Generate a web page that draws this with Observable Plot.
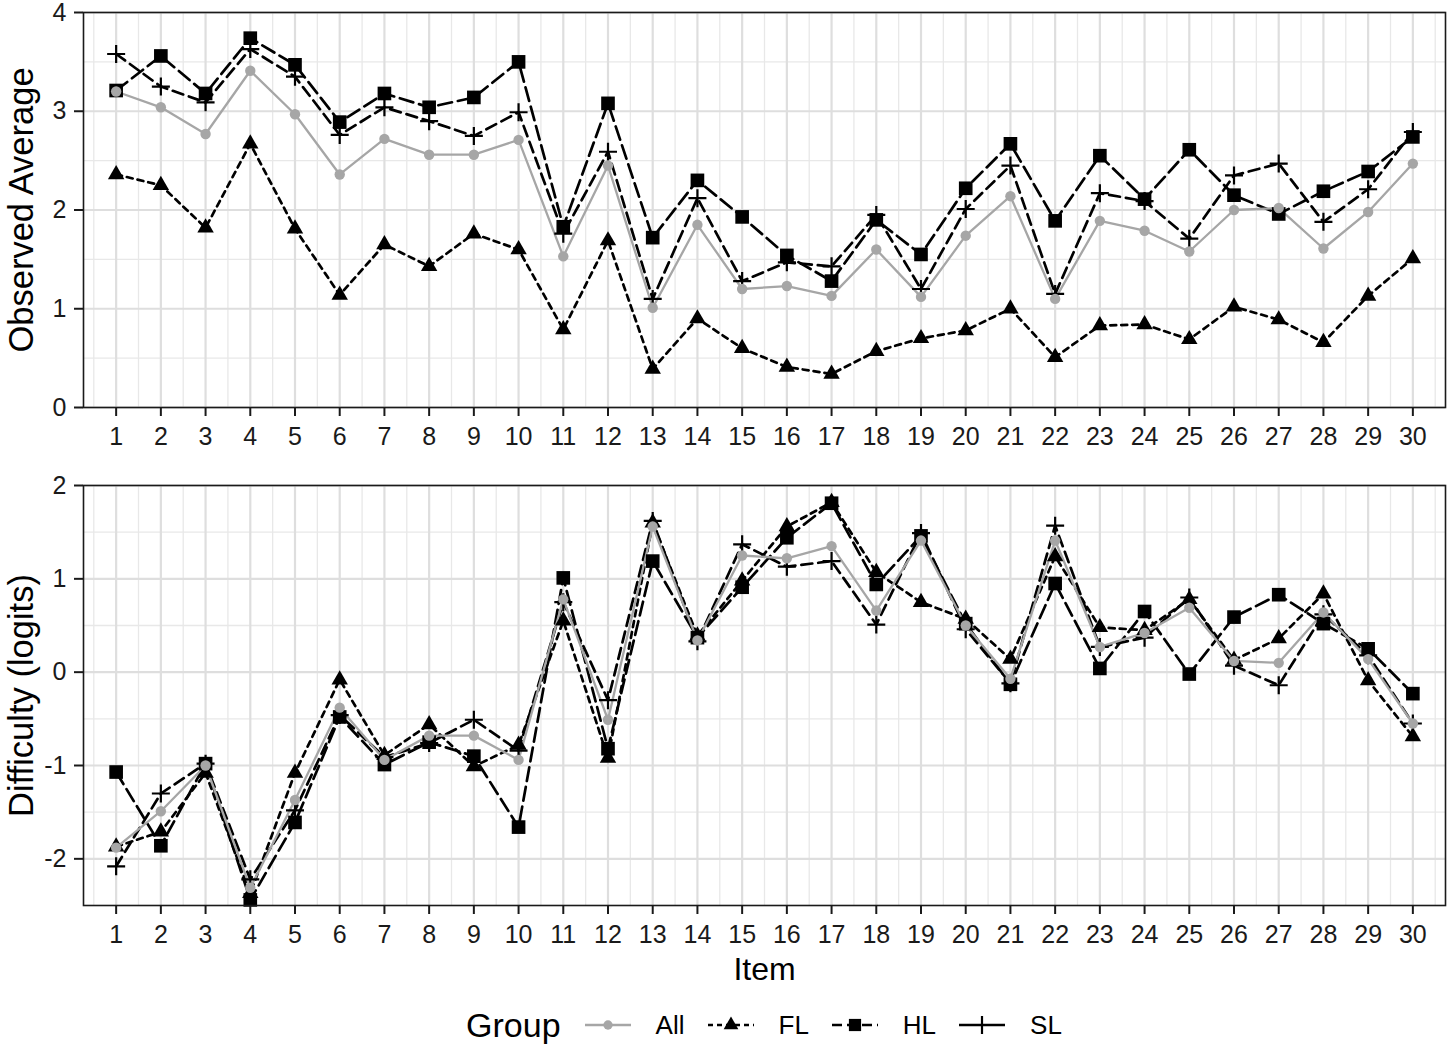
<!DOCTYPE html>
<html>
<head>
<meta charset="utf-8">
<script src="https://cdn.jsdelivr.net/npm/d3@7"></script>
<script src="https://cdn.jsdelivr.net/npm/@observablehq/plot@0.6"></script>
<style>
  body { margin: 0; background: #fff; font-family: "Liberation Sans", Arial, sans-serif; }
  #wrap { position: relative; width: 1450px; height: 1047px; overflow: hidden; }
  #top { position: absolute; left: 0; top: 0; }
  #bottom { position: absolute; left: 0; top: 460px; }
  #legend { position: absolute; left: 83px; width: 1362px; top: 1003px; height: 44px;
            display: flex; align-items: center; justify-content: center; }
  #legend .title { font-size: 34px; margin-right: 24px; color: #000; }
  #legend .lab { font-size: 26px; margin-left: 25px; margin-right: 23px; color: #000; }
  #legend .lab:last-child { margin-right: 0; }
  #legend svg { display: block; }
</style>
</head>
<body>
<div id="wrap">
  <div id="top"></div>
  <div id="bottom"></div>
  <div id="legend"></div>
</div>
<script>
// ---------------- data ----------------
const items = [1,2,3,4,5,6,7,8,9,10,11,12,13,14,15,16,17,18,19,20,21,22,23,24,25,26,27,28,29,30];
const groups = ["All", "FL", "HL", "SL"];

// Observed Average (top panel)
const obsAll = [3.20,3.04,2.77,3.41,2.97,2.36,2.72,2.56,2.56,2.71,1.53,2.45,1.01,1.85,1.20,1.23,1.13,1.60,1.12,1.74,2.14,1.10,1.89,1.79,1.58,2.00,2.02,1.61,1.98,2.47];
const obsFL  = [2.36,2.25,1.82,2.67,1.81,1.14,1.65,1.43,1.76,1.60,0.79,1.69,0.39,0.90,0.60,0.41,0.34,0.57,0.70,0.78,1.00,0.51,0.83,0.84,0.69,1.02,0.89,0.66,1.13,1.51];
const obsHL  = [3.21,3.56,3.18,3.74,3.47,2.89,3.18,3.04,3.14,3.50,1.83,3.08,1.72,2.30,1.93,1.54,1.28,1.90,1.55,2.22,2.67,1.89,2.55,2.11,2.61,2.15,1.96,2.19,2.39,2.74];
const obsSL  = [3.58,3.25,3.09,3.63,3.35,2.76,3.04,2.90,2.75,2.99,1.76,2.59,1.10,2.12,1.28,1.47,1.43,1.95,1.20,2.01,2.45,1.15,2.17,2.09,1.71,2.35,2.47,1.88,2.21,2.79];

// Difficulty (logits) (bottom panel)
const difAll = [-1.88,-1.49,-1.00,-2.31,-1.37,-0.38,-0.94,-0.68,-0.68,-0.94,0.78,-0.51,1.56,0.34,1.25,1.22,1.35,0.66,1.41,0.50,-0.07,1.41,0.27,0.42,0.69,0.12,0.10,0.64,0.14,-0.55];
const difFL  = [-1.87,-1.71,-1.08,-2.37,-1.08,-0.08,-0.89,-0.56,-1.01,-0.78,0.55,-0.92,1.60,0.39,0.98,1.56,1.82,1.07,0.75,0.57,0.14,1.24,0.48,0.45,0.78,0.13,0.36,0.84,-0.09,-0.69];
const difHL  = [-1.07,-1.86,-0.98,-2.44,-1.61,-0.48,-0.99,-0.75,-0.90,-1.66,1.01,-0.82,1.19,0.37,0.91,1.44,1.81,0.94,1.46,0.52,-0.13,0.95,0.04,0.65,-0.02,0.59,0.83,0.52,0.25,-0.23];
const difSL  = [-2.08,-1.30,-0.98,-2.22,-1.48,-0.46,-0.91,-0.76,-0.51,-0.84,0.75,-0.30,1.62,0.33,1.37,1.13,1.19,0.51,1.49,0.46,-0.12,1.57,0.27,0.37,0.80,0.07,-0.14,0.62,0.18,-0.55];

// ticks
const xMinorTicks = [0.5,1.5,2.5,3.5,4.5,5.5,6.5,7.5,8.5,9.5,10.5,11.5,12.5,13.5,14.5,15.5,16.5,17.5,18.5,19.5,20.5,21.5,22.5,23.5,24.5,25.5,26.5,27.5,28.5,29.5,30.5];
const obsTicks = [0,1,2,3,4];
const obsMinor = [0.5,1.5,2.5,3.5];
const difTicks = [-2,-1,0,1,2];
const difMinor = [-1.5,-0.5,0.5,1.5];

const yTitleTop = "Observed Average";
const yTitleBottom = "Difficulty (logits)";
const xTitle = "Item";
const legendTitle = "Group";

// ---------------- styles ----------------
const FONT = '"Liberation Sans", Arial, sans-serif';
const plusSymbol = {
  draw(ctx, size) {
    const r = Math.sqrt(size / Math.PI);
    ctx.moveTo(-r, 0); ctx.lineTo(r, 0);
    ctx.moveTo(0, -r); ctx.lineTo(0, r);
  }
};
const gStyle = {
  All: {stroke: "#a6a6a6", width: 2.3, dash: null, symbol: "circle", r: 5.2, fill: "#a6a6a6", mstroke: "none", msw: 0},
  FL:  {stroke: "#000", width: 2.7, dash: "6,5", symbol: "triangle", r: 6.1, fill: "#000", mstroke: "none", msw: 0},
  HL:  {stroke: "#000", width: 2.7, dash: "14,6", symbol: "square", r: 7.7, fill: "#000", mstroke: "none", msw: 0},
  SL:  {stroke: "#000", width: 2.7, dash: "11,6", symbol: plusSymbol, r: 9, fill: "none", mstroke: "#000", msw: 2.2}
};

function toRows(series) {
  return groups.flatMap(g => series[g].map((v, i) => ({item: items[i], value: v, group: g})));
}

function panel({rows, yDomain, yTicks, yMinor, yTitle, height, marginTop, marginBottom, showXTitle}) {
  const by = g => rows.filter(d => d.group === g);
  const lineOf = g => Plot.lineY(by(g), {
    x: "item", y: "value", stroke: gStyle[g].stroke, strokeWidth: gStyle[g].width,
    strokeDasharray: gStyle[g].dash, strokeLinejoin: "round"
  });
  const dotOf = g => Plot.dot(by(g), {
    x: "item", y: "value", symbol: gStyle[g].symbol, r: gStyle[g].r,
    fill: gStyle[g].fill, stroke: gStyle[g].mstroke, strokeWidth: gStyle[g].msw
  });
  const marks = [
    Plot.gridX(xMinorTicks, {stroke: "#e8e8e8", strokeOpacity: 1, strokeWidth: 1.3}),
    Plot.gridY(yMinor, {stroke: "#e8e8e8", strokeOpacity: 1, strokeWidth: 1.3}),
    Plot.gridX(items, {stroke: "#dedede", strokeOpacity: 1, strokeWidth: 2.2}),
    Plot.gridY(yTicks, {stroke: "#dedede", strokeOpacity: 1, strokeWidth: 2.2}),
    lineOf("FL"), lineOf("HL"), lineOf("SL"), lineOf("All"),
    dotOf("FL"), dotOf("HL"), dotOf("SL"), dotOf("All"),
    Plot.frame({stroke: "#1a1a1a", strokeWidth: 1.6}),
    Plot.axisX(items, {tickSize: 9, tickPadding: 11, fontSize: 25, strokeWidth: 2, stroke: "#1a1a1a", fill: "#1a1a1a", label: null, tickFormat: d => `${d}`}),
    Plot.axisY(yTicks, {tickSize: 9, tickPadding: 8, fontSize: 25, strokeWidth: 2, stroke: "#1a1a1a", fill: "#1a1a1a", label: null, tickFormat: d => `${d}`}),
    Plot.text([yTitle], {text: d => d, frameAnchor: "left", textAnchor: "middle", lineAnchor: "middle", dx: -62, rotate: -90, fontSize: 34.5, fill: "#000"})
  ];
  if (showXTitle) {
    marks.push(Plot.text([xTitle], {text: d => d, frameAnchor: "bottom", textAnchor: "middle", lineAnchor: "middle", dy: 64, fontSize: 32, fill: "#000"}));
  }
  return Plot.plot({
    width: 1450, height, marginLeft: 83, marginRight: 5, marginTop, marginBottom,
    style: {fontFamily: FONT, background: "transparent", overflow: "visible"},
    x: {type: "linear", domain: [0.27, 30.73]},
    y: {type: "linear", domain: yDomain},
    marks
  });
}

const obsRows = toRows({All: obsAll, FL: obsFL, HL: obsHL, SL: obsSL});
const difRows = toRows({All: difAll, FL: difFL, HL: difHL, SL: difSL});

document.getElementById("top").appendChild(panel({
  rows: obsRows, yDomain: [0, 4], yTicks: obsTicks, yMinor: obsMinor, yTitle: yTitleTop,
  height: 460, marginTop: 12, marginBottom: 53, showXTitle: false
}));
document.getElementById("bottom").appendChild(panel({
  rows: difRows, yDomain: [-2.5, 2], yTicks: difTicks, yMinor: difMinor, yTitle: yTitleBottom,
  height: 530, marginTop: 25, marginBottom: 85, showXTitle: true
}));

// ---------------- legend ----------------
const legend = d3.select("#legend");
legend.append("span").attr("class", "title").text(legendTitle);
groups.forEach(g => {
  const s = gStyle[g];
  const svg = legend.append("svg").attr("width", 46).attr("height", 30);
  svg.append("line").attr("x1", 0).attr("x2", 46).attr("y1", 15).attr("y2", 15)
    .attr("stroke", s.stroke).attr("stroke-width", s.width)
    .attr("stroke-dasharray", g === "SL" || g === "All" ? null : (g === "FL" ? "5,4" : "10,5"));
  const sym = typeof s.symbol === "string"
    ? d3.symbol({circle: d3.symbolCircle, triangle: d3.symbolTriangle, square: d3.symbolSquare}[s.symbol], Math.PI * s.r * s.r * 0.8)
    : d3.symbol(s.symbol, Math.PI * s.r * s.r);
  svg.append("path").attr("transform", "translate(23,15)").attr("d", sym())
    .attr("fill", s.fill).attr("stroke", s.mstroke).attr("stroke-width", s.msw);
  legend.append("span").attr("class", "lab").text(g);
});
</script>
</body>
</html>
